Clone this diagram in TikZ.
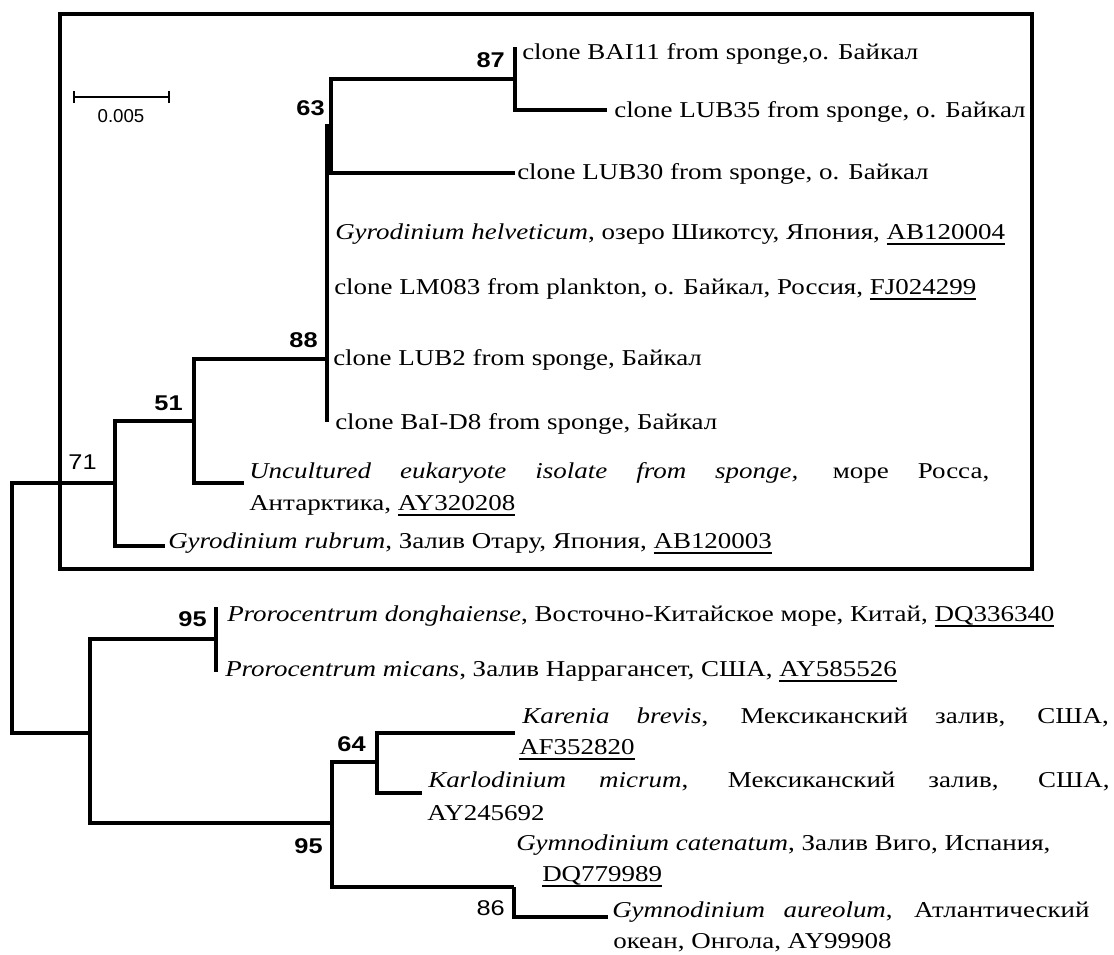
\documentclass[tikz,border=0pt]{standalone}
\usepackage{fontspec}
\usetikzlibrary{calc}
\setmainfont{Liberation Serif}[FakeStretch=1.19]
\newfontfamily\supfont{Liberation Sans}[FakeStretch=1.19]
\newfontfamily\barfont{Liberation Sans}
% accession number with a heavy underline
\newcommand\acc[1]{\setbox0\hbox{#1}\rlap{\vrule width\wd0 height -3pt depth 4.6pt}\box0}
\begin{document}
\begin{tikzpicture}[x=0.75pt,y=-0.75pt,
  branch/.style={line width=2.6pt},
  frame/.style={line width=2.6pt},
  leaf/.style={anchor=base west, inner sep=0pt, font=\fontsize{17}{20}\selectfont},
  boot/.style={anchor=base east, inner sep=0pt, font=\supfont\bfseries\fontsize{16}{18}\selectfont},
  bootlight/.style={anchor=base east, inner sep=0pt, font=\supfont\fontsize{16}{18}\selectfont}]
\useasboundingbox (0,0) rectangle (1114,954);

% frame round the Gyrodinium clade
\draw[frame] (60,14) rectangle (1032,569);

% scale bar
\coordinate (sbL) at (74,97);
\coordinate (sbR) at (169,97);
\draw[line width=1.3pt] (sbL) -- (sbR);
\draw[line width=1.3pt] ($(sbL)+(0,-6)$) -- ($(sbL)+(0,6)$);
\draw[line width=1.3pt] ($(sbR)+(0,-6)$) -- ($(sbR)+(0,6)$);
\node[anchor=base, inner sep=0pt, font=\barfont\fontsize{14}{16}\selectfont] (sblab) at (121,122) {0.005};

% internal nodes
\coordinate (root) at (12,608);
\coordinate (n71) at (115,483);
\coordinate (n51) at (194,421);
\coordinate (n88) at (327,359);
\coordinate (n63) at (331,126);
\coordinate (n87) at (515,79);
\coordinate (nlow) at (90,733);
\coordinate (n95a) at (216,639);
\coordinate (n95b) at (332,823);
\coordinate (n64) at (377,762);
\coordinate (n86) at (514,887);

% branch tips
\coordinate (tbai) at (515,47);
\coordinate (tlub35) at (607,110);
\coordinate (tlub30) at (515,173);
\coordinate (thelv) at (327,232);
\coordinate (tlm) at (327,287);
\coordinate (tlub2) at (327,359);
\coordinate (tbaid) at (327,422);
\coordinate (tunc) at (244,483);
\coordinate (trub) at (165,546);
\coordinate (tdong) at (216,607);
\coordinate (tmic) at (216,672);
\coordinate (tkar) at (515,733);
\coordinate (tkarl) at (422,793);
\coordinate (tcat) at (514,887);
\coordinate (taur) at (608,917);

% branches
\draw[branch] (root) |- (n71);
\draw[branch] (root) |- (nlow);
\draw[branch] (n71) |- (n51);
\draw[branch] (n71) |- (trub);
\draw[branch] (n51) |- (n88);
\draw[branch] (n51) |- (tunc);
\draw[branch] (n88) |- (n63);
\draw[branch] (n88) -- (tbaid);
\draw[branch] (n63) |- (n87);
\draw[branch] (n63) |- (tlub30);
\draw[branch] (n87) -- (tbai);
\draw[branch] (n87) |- (tlub35);
\draw[branch] (nlow) |- (n95a);
\draw[branch] (nlow) |- (n95b);
\draw[branch] (n95a) -- (tdong);
\draw[branch] (n95a) -- (tmic);
\draw[branch] (n95b) |- (n64);
\draw[branch] (n95b) |- (n86);
\draw[branch] (n64) |- (tkar);
\draw[branch] (n64) |- (tkarl);
\draw[branch] (n86) |- (taur);

% bootstrap values
\node[boot] (b87) at (505,67) {87};
\node[boot] (b63) at (325,115) {63};
\node[boot] (b88) at (318,347) {88};
\node[boot] (b51) at (183,410) {51};
\node[bootlight] (b71) at (97,469) {71};
\node[boot] (b95a) at (207,626) {95};
\node[boot] (b64) at (366,751) {64};
\node[boot] (b95b) at (323,853) {95};
\node[bootlight] (b86) at (505,915) {86};

% taxon labels
\node[leaf] (lbai) at (522,59) {clone BAI11 from sponge,о. Байкал};
\node[leaf] (llub35) at (614,117) {clone LUB35 from sponge, о. Байкал};
\node[leaf] (llub30) at (517,179) {clone LUB30 from sponge, о. Байкал};
\node[leaf] (lhelv) at (335,239) {\textit{Gyrodinium helveticum}, озеро Шикотсу, Япония, \acc{AB120004}};
\node[leaf] (llm) at (334,294) {clone LM083 from plankton, о. Байкал, Россия, \acc{FJ024299}};
\node[leaf] (llub2) at (333,365) {clone LUB2 from sponge, Байкал};
\node[leaf] (lbaid) at (335,429) {clone BaI-D8 from sponge, Байкал};
\node[leaf] (lunc1) at (249,478) {\makebox[555pt][s]{\textit{Uncultured eukaryote isolate from sponge,} море Росса,}};
\node[leaf] (lunc2) at (249,510) {Антарктика, \acc{AY320208}};
\node[leaf] (lrub) at (168,548) {\textit{Gyrodinium rubrum}, Залив Отару, Япония, \acc{AB120003}};
\node[leaf] (ldong) at (227,621) {\textit{Prorocentrum donghaiense}, Восточно-Китайское море, Китай, \acc{DQ336340}};
\node[leaf] (lmic) at (225,676) {\textit{Prorocentrum micans}, Залив Наррагансет, США, \acc{AY585526}};
\node[leaf] (lkar1) at (522,723) {\makebox[440pt][s]{\textit{Karenia brevis}, Мексиканский залив, США,}};
\node[leaf] (lkar2) at (519,754) {\acc{AF352820}};
\node[leaf] (lkarl1) at (428,787) {\makebox[511pt][s]{\textit{Karlodinium micrum}, Мексиканский залив, США,}};
\node[leaf] (lkarl2) at (427,820) {AY245692};
\node[leaf] (lcat1) at (516,850) {\textit{Gymnodinium catenatum}, Залив Виго, Испания,};
\node[leaf] (lcat2) at (542,881) {\acc{DQ779989}};
\node[leaf] (laur1) at (612,917) {\makebox[358pt][s]{\textit{Gymnodinium aureolum}, Атлантический}};
\node[leaf] (laur2) at (613,948) {океан, Онгола, AY99908};
\end{tikzpicture}
\end{document}
